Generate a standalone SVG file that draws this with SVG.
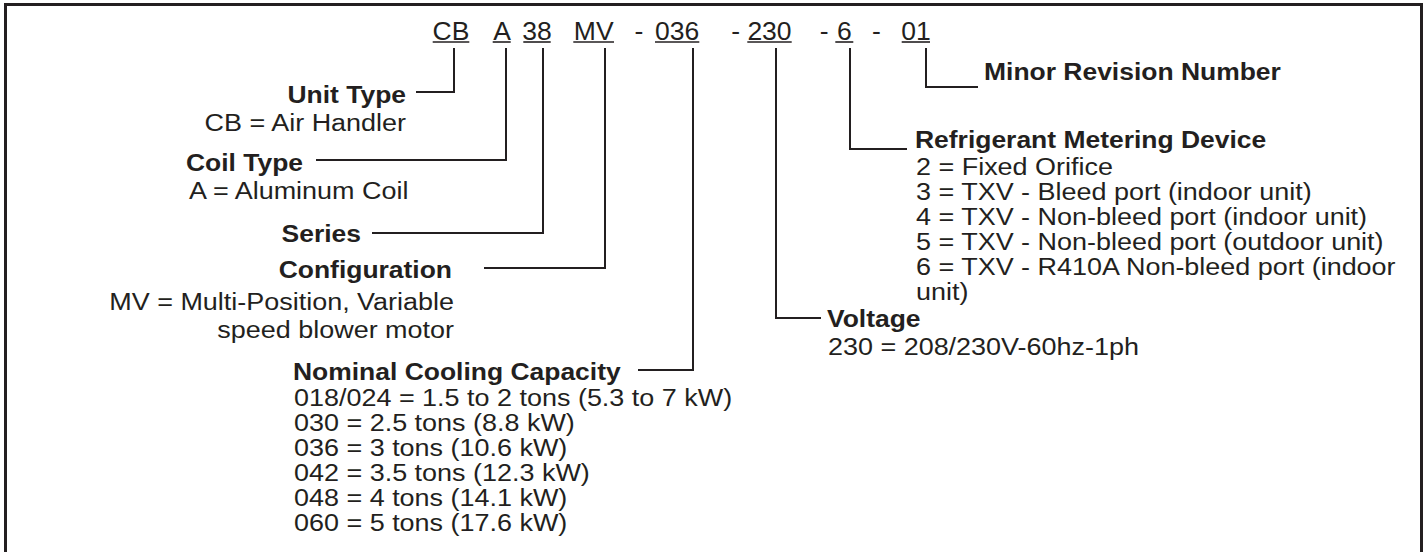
<svg xmlns="http://www.w3.org/2000/svg" width="1427" height="552" viewBox="0 0 1427 552">
<style>
.t{font-family:"Liberation Sans",Arial,Helvetica,sans-serif;fill:#231f20;font-size:24.5px}
.b{font-weight:bold}
.e{text-anchor:end}
.m{text-anchor:middle}
.c{font-size:26px}
.ln{fill:none;stroke:#231f20;stroke-width:2}
.ul{stroke:#231f20;stroke-width:1.6}
</style>
<rect x="0" y="0" width="1427" height="552" fill="#ffffff"/>
<rect x="5.5" y="4.5" width="1416" height="600" fill="none" stroke="#231f20" stroke-width="3"/>

<g id="code">
<text class="t c m" transform="translate(451 39.5) scale(1.02 1)">CB</text>
<text class="t c m" transform="translate(502 39.5) scale(1.02 1)">A</text>
<text class="t c m" transform="translate(537 39.5) scale(1.02 1)">38</text>
<text class="t c m" transform="translate(593.7 39.5) scale(1.02 1)">MV</text>
<text class="t c m" transform="translate(638.9 39.5) scale(1.02 1)">-</text>
<text class="t c m" transform="translate(677.2 39.5) scale(1.02 1)">036</text>
<text class="t c m" transform="translate(735.7 39.5) scale(1.02 1)">-</text>
<text class="t c m" transform="translate(769.5 39.5) scale(1.02 1)">230</text>
<text class="t c m" transform="translate(824.2 39.5) scale(1.02 1)">-</text>
<text class="t c m" transform="translate(844.3 39.5) scale(1.02 1)">6</text>
<text class="t c m" transform="translate(876.3 39.5) scale(1.02 1)">-</text>
<text class="t c m" transform="translate(915.9 39.5) scale(1.02 1)">01</text>
<line class="ul" x1="432.7" y1="42" x2="469.3" y2="42"/>
<line class="ul" x1="492.7" y1="42" x2="510.7" y2="42"/>
<line class="ul" x1="523.3" y1="42" x2="550.7" y2="42"/>
<line class="ul" x1="573.3" y1="42" x2="614" y2="42"/>
<line class="ul" x1="655" y1="42" x2="699.3" y2="42"/>
<line class="ul" x1="747.3" y1="42" x2="791.7" y2="42"/>
<line class="ul" x1="835.3" y1="42" x2="853.3" y2="42"/>
<line class="ul" x1="901.7" y1="42" x2="930" y2="42"/>
</g>

<g id="connectors">
<path class="ln" d="M454,48 V92 H416"/>
<path class="ln" d="M506,48 V160 H316"/>
<path class="ln" d="M543,48 V233 H372"/>
<path class="ln" d="M605,48 V268 H484"/>
<path class="ln" d="M693,48 V370 H638"/>
<path class="ln" d="M776,48 V318 H821"/>
<path class="ln" d="M850,48 V149 H907"/>
<path class="ln" d="M926,48 V87 H978"/>
</g>

<g id="unit-type">
<text class="t b e" transform="translate(406 103) scale(1.08 1)">Unit Type</text>
<text class="t e" transform="translate(406 131) scale(1.1 1)">CB = Air Handler</text>
</g>
<g id="coil-type">
<text class="t b" transform="translate(186 171) scale(1.08 1)">Coil Type</text>
<text class="t" transform="translate(189 199) scale(1.1 1)">A = Aluminum Coil</text>
</g>
<g id="series">
<text class="t b e" transform="translate(361 242) scale(1.08 1)">Series</text>
</g>
<g id="configuration">
<text class="t b e" transform="translate(452 278) scale(1.08 1)">Configuration</text>
<text class="t e" transform="translate(454 310) scale(1.1 1)">MV = Multi-Position, Variable</text>
<text class="t e" transform="translate(454 338) scale(1.1 1)">speed blower motor</text>
</g>
<g id="capacity">
<text class="t b" transform="translate(293 380) scale(1.08 1)">Nominal Cooling Capacity</text>
<text class="t" transform="translate(294 406) scale(1.1 1)">018/024 = 1.5 to 2 tons (5.3 to 7 kW)</text>
<text class="t" transform="translate(294 431) scale(1.1 1)">030 = 2.5 tons (8.8 kW)</text>
<text class="t" transform="translate(294 456) scale(1.1 1)">036 = 3 tons (10.6 kW)</text>
<text class="t" transform="translate(294 481) scale(1.1 1)">042 = 3.5 tons (12.3 kW)</text>
<text class="t" transform="translate(294 506) scale(1.1 1)">048 = 4 tons (14.1 kW)</text>
<text class="t" transform="translate(294 531) scale(1.1 1)">060 = 5 tons (17.6 kW)</text>
</g>
<g id="voltage">
<text class="t b" transform="translate(827 327) scale(1.08 1)">Voltage</text>
<text class="t" transform="translate(828 355) scale(1.1 1)">230 = 208/230V-60hz-1ph</text>
</g>
<g id="metering">
<text class="t b" transform="translate(915 148) scale(1.08 1)">Refrigerant Metering Device</text>
<text class="t" transform="translate(916 175) scale(1.1 1)">2 = Fixed Orifice</text>
<text class="t" transform="translate(916 200) scale(1.1 1)">3 = TXV - Bleed port (indoor unit)</text>
<text class="t" transform="translate(916 225) scale(1.1 1)">4 = TXV - Non-bleed port (indoor unit)</text>
<text class="t" transform="translate(916 250) scale(1.1 1)">5 = TXV - Non-bleed port (outdoor unit)</text>
<text class="t" transform="translate(916 275) scale(1.1 1)">6 = TXV - R410A Non-bleed port (indoor</text>
<text class="t" transform="translate(916 300) scale(1.1 1)">unit)</text>
</g>
<g id="minor-revision">
<text class="t b" transform="translate(984 80) scale(1.08 1)">Minor Revision Number</text>
</g>
</svg>
